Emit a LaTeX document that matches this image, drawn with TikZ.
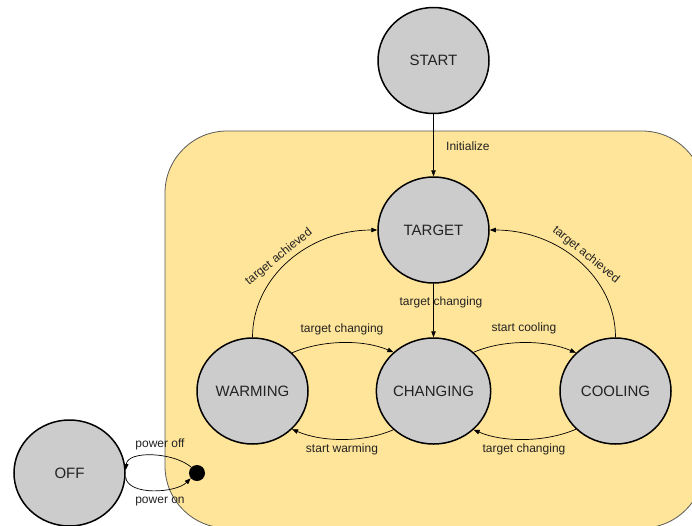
\documentclass[tikz,border=0pt]{standalone}
\usepackage{fontspec}
\setmainfont{Liberation Sans}
\usetikzlibrary{shapes.geometric,arrows.meta}
\definecolor{zone}{HTML}{FFE599}
\definecolor{statefill}{HTML}{CCCCCC}
\definecolor{ink}{HTML}{222222}
\begin{document}
\begin{tikzpicture}[x=1pt,y=-1pt,
  state/.style={ellipse,draw=black,line width=1.5pt,fill=statefill,
    minimum width=111pt,minimum height=106pt,inner sep=0pt,
    font=\fontsize{15}{18}\selectfont,text=ink},
  edge/.style={draw=black,line width=0.7pt,-{Triangle[length=6pt,width=4.5pt]}},
  lbl/.style={font=\fontsize{12}{14}\selectfont,text=ink,inner sep=0pt}]
\useasboundingbox (0,0) rectangle (692,525);
\fill[white] (0,0) rectangle (692,525);
\begin{scope}
\clip (0,0) rectangle (692,525);
% operating zone
\draw[fill=zone,draw=black!65,line width=0.8pt,rounded corners=62pt]
  (165,131) rectangle (704,528);

% states
\node[state] (S)  at (433.5,60.5) {START};
\node[state] (T)  at (433.5,230)  {TARGET};
\node[state] (W)  at (252.5,391)  {WARMING};
\node[state] (C)  at (433.5,391)  {CHANGING};
\node[state] (Co) at (615.5,391)  {COOLING};
\node[state] (O)  at (69.5,473)   {OFF};
\node[circle,fill=black,minimum size=16pt,inner sep=0pt] (D) at (197,473) {};

% transitions
\draw[edge] (S.south) -- (T.north);
\node[lbl,anchor=west] (li) at (446,146) {Initialize};

\draw[edge] (T.south) -- (C.north);
\node[lbl] (ltc) at (441,302) {target changing};

\draw[edge] (W.north) .. controls +(0,-60) and +(-69,0) .. (T.west);
\node[lbl,rotate=39] (lwa) at (279,257) {target achieved};

\draw[edge] (Co.north) .. controls +(0,-60) and +(69,0) .. (T.east);
\node[lbl,rotate=-39] (lca) at (586,255) {target achieved};

\draw[edge] (W.44) .. controls +(30,-13) and +(-30,-13) .. (C.136);
\node[lbl] (lwc) at (342,329) {target changing};
\draw[edge] (C.224) .. controls +(-30,13) and +(30,13) .. (W.316);
\node[lbl] (lcw) at (342,449) {start warming};

\draw[edge] (C.44) .. controls +(30,-13) and +(-30,-13) .. (Co.136);
\node[lbl] (lcc) at (524,328) {start cooling};
\draw[edge] (Co.224) .. controls +(-30,13) and +(30,13) .. (C.316);
\node[lbl] (lcoc) at (524,449) {target changing};

\draw[edge] (D.135) .. controls +(-17,-15) and +(2,-20) .. (O.3);
\node[lbl] (lpoff) at (160,444) {power off};
\draw[edge] (O.-4) .. controls +(2,19) and +(-15,15) .. (D.220);
\node[lbl] (lpon) at (160,502) {power on};
\end{scope}
\end{tikzpicture}
\end{document}
